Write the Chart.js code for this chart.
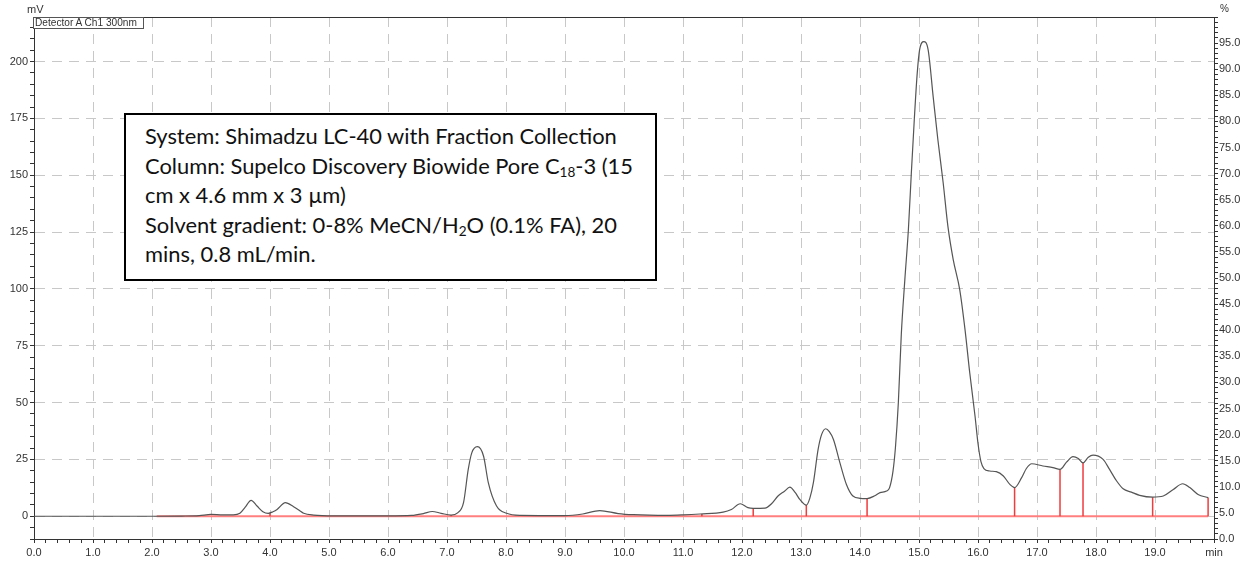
<!DOCTYPE html>
<html lang="en">
<head>
<meta charset="UTF-8">
<title>Detector A Ch1 300nm - Fraction Collection</title>
<script src="https://cdn.jsdelivr.net/npm/chart.js"></script>
<style>
    html, body { margin: 0; padding: 0; background: #fff; }
    #wrap { position: relative; width: 1252px; height: 565px; overflow: hidden; }
    #chrom { position: absolute; left: 0; top: 0; }
    .lbl { position: absolute; font-family: "Liberation Sans", Arial, sans-serif; color: #333; white-space: nowrap; line-height: 1; }
    #unitLeft { left: 27px; top: 4px; font-size: 11px; }
    #unitRight { left: 1220px; top: 4px; font-size: 10px; }
    #detBox { position: absolute; left: 33px; top: 17px; width: 109px; height: 10px; border: 1px solid #555; background: #fff; }
    #detector { font-size: 10px; }
    #noteBox { position: absolute; left: 124px; top: 113px; width: 533px; height: 168px; box-sizing: border-box; border: 2px solid #000; background: #fff; }
    .note { position: absolute; font-family: Lato, "Noto Sans", sans-serif; color: #111; white-space: nowrap; line-height: 1.2; }
    .note sub { font-size: 0.62em; vertical-align: -0.25em; line-height: 0; }
</style>
</head>
<body>
<div id="wrap">
    <canvas id="chrom" width="1252" height="565"></canvas>
    <div class="lbl" id="unitLeft">mV</div>
    <div class="lbl" id="unitRight">%</div>
    <div id="detBox"></div>
    <div class="lbl" id="detector">Detector A Ch1 300nm</div>
    <div id="noteBox"></div>
    <div class="note" id="n1">System: Shimadzu LC-40 with Fraction Collection</div>
    <div class="note" id="n2">Column: Supelco Discovery Biowide Pore C<sub>18</sub>-3 (15</div>
    <div class="note" id="n3">cm x 4.6 mm x 3 µm)</div>
    <div class="note" id="n4">Solvent gradient: 0-8% MeCN/H<sub>2</sub>O (0.1% FA), 20</div>
    <div class="note" id="n5">mins, 0.8 mL/min.</div>
</div>

<script>
    // retention time (min) and detector signal (mV)
    const times = [0, 1.0, 2.0, 2.5, 2.8, 3.0, 3.2, 3.38, 3.49, 3.58, 3.68, 3.78, 3.88, 3.97, 4.05, 4.12, 4.26, 4.40, 4.50, 4.57,
        4.74, 5.08, 6.0, 6.4, 6.6, 6.75, 6.9, 7.07, 7.18, 7.28, 7.36, 7.42, 7.515, 7.62, 7.70, 7.84, 8.01, 8.24, 9.0, 9.3,
        9.59, 9.9, 10.16, 10.73, 11.0, 11.29, 11.68, 11.82, 11.97, 12.1, 12.19, 12.39, 12.5, 12.61, 12.72, 12.81, 12.9, 12.98, 13.09, 13.15,
        13.21, 13.29, 13.35, 13.42, 13.48, 13.55, 13.66, 13.77, 13.88, 14.0, 14.12, 14.25, 14.34, 14.45, 14.5, 14.56, 14.6, 14.65, 14.70, 14.76,
        14.82, 14.87, 14.92, 14.97, 15.01, 15.08, 15.155, 15.24, 15.32, 15.41, 15.49, 15.58, 15.69, 15.78, 15.86, 15.95, 16.0, 16.05, 16.1, 16.2,
        16.31, 16.43, 16.54, 16.62, 16.74, 16.82, 16.91, 17.10, 17.27, 17.39, 17.50, 17.61, 17.70, 17.78, 17.87, 17.95, 18.12, 18.23, 18.35, 18.46,
        18.60, 18.74, 18.96, 19.14, 19.31, 19.47, 19.59, 19.73, 19.90];
    const signal = [0, 0, 0, 0.1, 0.3, 0.8, 0.6, 0.6, 1.3, 4.0, 7.0, 4.5, 2.0, 1.3, 2.0, 3.0, 6.0, 4.2, 2.5, 1.3,
        0.5, 0.2, 0.2, 0.4, 1.2, 2.1, 1.3, 0.5, 1.5, 6.0, 20.6, 27.9, 30.6, 26.4, 14.8, 4.5, 1.3, 0.4, 0.3, 1.0,
        2.5, 1.2, 0.7, 0.4, 0.6, 1.0, 1.8, 3.0, 5.5, 3.8, 3.5, 3.6, 5.5, 8.9, 11.0, 12.8, 10.5, 7.4, 4.9, 8.0,
        14.8, 29.4, 36.0, 38.5, 37.2, 33.8, 23.5, 14.0, 8.9, 7.9, 7.8, 9.0, 10.4, 11.1, 12.5, 20, 30, 50, 80, 104.1,
        126, 151, 174.4, 194.9, 205.1, 208.8, 205.1, 184.6, 165.6, 146.6, 127.5, 112.9, 99.7, 82.1, 63.1, 44.0, 32, 24, 21, 19.9,
        19.6, 17.7, 14.0, 12.6, 17.0, 21.0, 23.1, 22.1, 21.4, 20.6, 23.8, 26.2, 25.4, 23.5, 26.0, 26.9, 25.0, 20.6, 15.5, 12.1,
        10.6, 9.2, 8.4, 8.9, 11.8, 14.3, 12.6, 9.6, 8.2];

    // fraction cut marks: time (min) and signal at the cut (mV)
    const fracTimes = [4.0, 7.07, 11.32, 12.19, 13.09, 14.12, 16.62, 17.39, 17.78, 18.96, 19.90];
    const fracTops = [1.3, 0.5, 1.0, 3.5, 4.9, 7.8, 12.6, 20.6, 23.5, 8.4, 8.2];

    // collection baseline (min)
    const baseFrom = 2.08;
    const baseTo = 19.90;

    // axis ranges
    const timeRange = [0, 20];
    const mvRange = [-10, 219.6];
    const pctRange = [0, 100];

    const isWhole = (v, step) => Math.abs(v / step - Math.round(v / step)) < 1e-6;

    const tracePts = times.map((t, i) => ({ x: t, y: signal[i] }));
    const fracPts = [];
    fracTimes.forEach((t, i) => {
        fracPts.push({ x: t, y: 0 }, { x: t, y: fracTops[i] }, { x: t, y: null });
    });

    Chart.defaults.font.family = '"Liberation Sans", Arial, sans-serif';
    Chart.defaults.font.size = 11;
    Chart.defaults.color = '#333';

    const frameTop = {
        id: 'frameTop',
        afterDraw(chart) {
            const a = chart.chartArea, c = chart.ctx;
            c.save();
            c.strokeStyle = '#333';
            c.lineWidth = 1;
            c.beginPath();
            c.moveTo(a.left, Math.round(a.top) + 0.5);
            c.lineTo(a.right, Math.round(a.top) + 0.5);
            c.stroke();
            c.restore();
        }
    };

    const gridDash = [10, 7];

    const chart = new Chart(document.getElementById('chrom'), {
        type: 'line',
        data: {
            datasets: [
                {
                    label: 'Detector A Ch1 300nm',
                    data: tracePts,
                    borderColor: '#555',
                    borderWidth: 1.2,
                    pointRadius: 0,
                    cubicInterpolationMode: 'monotone',
                    order: 0
                },
                {
                    label: 'Fractions',
                    data: fracPts,
                    borderColor: '#f03c3c',
                    borderWidth: 1.5,
                    pointRadius: 0,
                    spanGaps: false,
                    tension: 0,
                    order: 1
                },
                {
                    label: 'Baseline',
                    data: [{ x: baseFrom, y: 0 }, { x: baseTo, y: 0 }],
                    borderColor: '#ff7f7f',
                    borderWidth: 2,
                    pointRadius: 0,
                    order: 2
                }
            ]
        },
        options: {
            responsive: false,
            animation: false,
            devicePixelRatio: 1,
            layout: { padding: { top: 17, left: 0, right: 0, bottom: 0 } },
            plugins: { legend: { display: false }, tooltip: { enabled: false } },
            scales: {
                x: {
                    type: 'linear',
                    min: timeRange[0],
                    max: timeRange[1],
                    afterFit: s => { s.height = 26; },
                    ticks: {
                        stepSize: 0.2,
                        autoSkip: false,
                        maxRotation: 0,
                        padding: 3,
                        callback: v => isWhole(v, 20) && v > 0 ? 'min' : (isWhole(v, 1) ? v.toFixed(1) : '')
                    },
                    grid: {
                        color: c => (c.tick && isWhole(c.tick.value, 1) && c.tick.value > 0 && c.tick.value < 20) ? '#c8c8c8' : 'rgba(0,0,0,0)',
                        tickColor: '#333',
                        tickLength: 4
                    },
                    border: { display: true, color: '#333', width: 1, dash: gridDash }
                },
                y: {
                    type: 'linear',
                    position: 'left',
                    min: mvRange[0],
                    max: mvRange[1],
                    afterFit: s => { s.width = 34; },
                    ticks: {
                        stepSize: 5,
                        includeBounds: false,
                        autoSkip: false,
                        padding: 2,
                        callback: v => (isWhole(v, 25) && v >= 0) ? String(v) : ''
                    },
                    grid: {
                        color: c => (c.tick && isWhole(c.tick.value, 25) && c.tick.value >= 0) ? '#c8c8c8' : 'rgba(0,0,0,0)',
                        tickColor: '#333',
                        tickLength: 4
                    },
                    border: { display: true, color: '#333', width: 1, dash: gridDash }
                },
                y2: {
                    type: 'linear',
                    position: 'right',
                    min: pctRange[0],
                    max: pctRange[1],
                    afterFit: s => { s.width = 38; },
                    ticks: {
                        stepSize: 1,
                        autoSkip: false,
                        padding: 1,
                        callback: v => (isWhole(v, 5) && v < 100) ? v.toFixed(1) : ''
                    },
                    grid: {
                        drawOnChartArea: false,
                        tickColor: '#333',
                        tickLength: 4
                    },
                    border: { display: true, color: '#333', width: 1 }
                }
            }
        },
        plugins: [frameTop]
    });

    // fit overlay text to the reference widths and baselines
    function fitWidth(el, target) {
        el.style.fontSize = '20px';
        const w = el.getBoundingClientRect().width;
        return 20 * target / w;
    }
    function placeAt(el, left, baseline) {
        const probe = document.createElement('span');
        probe.style.cssText = 'display:inline-block;width:0;height:0;vertical-align:baseline';
        el.appendChild(probe);
        el.style.left = left + 'px';
        el.style.top = '0px';
        el.style.top = (baseline - probe.offsetTop) + 'px';
        el.removeChild(probe);
    }
    function layoutText() {
        const noteLines = ['n1', 'n2', 'n3', 'n4', 'n5'].map(id => document.getElementById(id));
        const size = fitWidth(noteLines[0], 472);
        const baselines = [144, 173.5, 203, 232.5, 262];
        noteLines.forEach((el, i) => {
            el.style.fontSize = size + 'px';
            placeAt(el, 145, baselines[i]);
        });
        const det = document.getElementById('detector');
        det.style.fontSize = fitWidth(det, 102) + 'px';
        placeAt(det, 35, 26);
    }
    layoutText();
    if (document.fonts && document.fonts.ready) document.fonts.ready.then(layoutText);
</script>
</body>
</html>
